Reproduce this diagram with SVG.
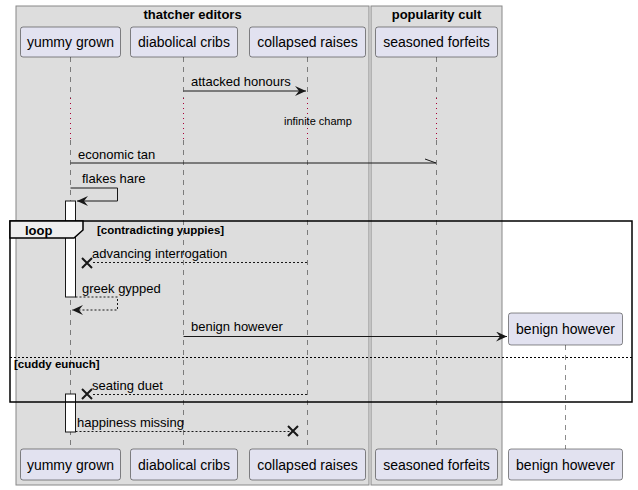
<svg xmlns="http://www.w3.org/2000/svg" width="638" height="490" viewBox="0 0 638 490">
<style>
text{font-family:"Liberation Sans",Arial,sans-serif;fill:#000}
.pt{font-size:14px}
.msg{font-size:13px}
.bt{font-size:13px;font-weight:bold}
.gh{font-size:11.5px;font-weight:bold}
.box{fill:#DDDDDD;stroke:#888888;stroke-width:1}
.part{fill:#E2E2F0;stroke:#181818;stroke-width:0.5}
.life{stroke:#181818;stroke-width:0.5;stroke-dasharray:5,5;fill:none}
.delay{stroke:#A80036;stroke-width:1;stroke-dasharray:1,4;fill:none}
.act{fill:#FFFFFF;stroke:#181818;stroke-width:1}
.solid{stroke:#181818;stroke-width:1;fill:none}
.dash{stroke:#181818;stroke-width:1;stroke-dasharray:2,2;fill:none}
.x{stroke:#181818;stroke-width:2;fill:none}
.frame{fill:none;stroke:#000;stroke-width:1.5}
</style>
<defs>
<marker id="ah" viewBox="0 0 12 10" refX="11" refY="5" markerWidth="12" markerHeight="10" markerUnits="userSpaceOnUse" orient="auto">
<path d="M0,0 L11,5 L0,10 L4,5 Z" fill="#181818"/>
</marker>
</defs>
<g id="box-thatcher">
<rect class="box" x="16" y="6" width="353" height="479"/>
<text class="bt" x="192.5" y="19" text-anchor="middle">thatcher editors</text>
</g>
<g id="box-popularity">
<rect class="box" x="371" y="6" width="131" height="479"/>
<text class="bt" x="436.5" y="19" text-anchor="middle">popularity cult</text>
</g>
<g id="lifelines">
<path class="life" d="M70.5,57 V98 M70.5,140 V449"/>
<path class="delay" d="M70.5,98 V140"/>
<path class="life" d="M183.5,57 V98 M183.5,140 V449"/>
<path class="delay" d="M183.5,98 V140"/>
<path class="life" d="M307.5,57 V98 M307.5,140 V449"/>
<path class="delay" d="M307.5,98 V140"/>
<path class="life" d="M436.5,57 V98 M436.5,140 V449"/>
<path class="delay" d="M436.5,98 V140"/>
<path class="life" d="M565.5,345 V449"/>
</g>
<g id="p-yummy">
<rect class="part" x="20.5" y="27" width="100" height="30" rx="2.5"/>
<text class="pt" x="70.5" y="47" text-anchor="middle">yummy grown</text>
<rect class="part" x="20.5" y="449" width="100" height="31" rx="2.5"/>
<text class="pt" x="70.5" y="470" text-anchor="middle">yummy grown</text>
</g>
<g id="p-diabolical">
<rect class="part" x="130.5" y="27" width="107" height="30" rx="2.5"/>
<text class="pt" x="184" y="47" text-anchor="middle">diabolical cribs</text>
<rect class="part" x="130.5" y="449" width="107" height="31" rx="2.5"/>
<text class="pt" x="184" y="470" text-anchor="middle">diabolical cribs</text>
</g>
<g id="p-collapsed">
<rect class="part" x="249.5" y="27" width="116" height="30" rx="2.5"/>
<text class="pt" x="307.5" y="47" text-anchor="middle">collapsed raises</text>
<rect class="part" x="249.5" y="449" width="116" height="31" rx="2.5"/>
<text class="pt" x="307.5" y="470" text-anchor="middle">collapsed raises</text>
</g>
<g id="p-seasoned">
<rect class="part" x="375.5" y="27" width="122" height="30" rx="2.5"/>
<text class="pt" x="436.5" y="47" text-anchor="middle">seasoned forfeits</text>
<rect class="part" x="375.5" y="449" width="122" height="31" rx="2.5"/>
<text class="pt" x="436.5" y="470" text-anchor="middle">seasoned forfeits</text>
</g>
<g id="p-benign">
<rect class="part" x="508.5" y="313" width="114" height="32" rx="2.5"/>
<text class="pt" x="565.5" y="334" text-anchor="middle">benign however</text>
<rect class="part" x="508.5" y="449" width="114" height="31" rx="2.5"/>
<text class="pt" x="565.5" y="470" text-anchor="middle">benign however</text>
</g>
<g id="activations">
<rect class="act" x="65.5" y="201" width="10" height="96"/>
<rect class="act" x="65.5" y="394" width="10" height="38"/>
</g>
<g id="connectors">
<line class="solid" x1="183.5" y1="91" x2="306" y2="91" marker-end="url(#ah)"/>
<text class="msg" x="191" y="86">attacked honours</text>
<text x="284" y="125" style="font-size:11px">infinite champ</text>
<line class="solid" x1="70.5" y1="163" x2="436" y2="163"/>
<line class="solid" x1="425" y1="159" x2="436" y2="163"/>
<text class="msg" x="78" y="159">economic tan</text>
<path class="solid" d="M70.5,188 H117.5 V201 H77" marker-end="url(#ah)"/>
<text class="msg" x="82" y="183">flakes hare</text>
<line class="dash" x1="307" y1="262.5" x2="92" y2="262.5"/>
<path class="x" d="M82,258 L92,268 M92,258 L82,268"/>
<text class="msg" x="92" y="258">advancing interrogation</text>
<path class="dash" d="M75.5,297 H117.5 V310 H72" marker-end="url(#ah)"/>
<text class="msg" x="82" y="293">greek gypped</text>
<line class="solid" x1="183.5" y1="336.5" x2="507" y2="336.5" marker-end="url(#ah)"/>
<text class="msg" x="191" y="331">benign however</text>
<line class="dash" x1="307" y1="394.5" x2="92" y2="394.5"/>
<path class="x" d="M82,389 L92,399 M92,389 L82,399"/>
<text class="msg" x="92" y="390">seating duet</text>
<line class="dash" x1="75.5" y1="431.5" x2="293" y2="431.5"/>
<path class="x" d="M288,426 L298,436 M298,426 L288,436"/>
<text class="msg" x="77" y="427">happiness missing</text>
</g>
<g id="loop">
<rect class="frame" x="10" y="221" width="622" height="181"/>
<path d="M10,221 H83 V230 L74,238 H10 Z" fill="#EEEEEE" stroke="#000" stroke-width="1.5"/>
<text class="bt" x="25" y="235">loop</text>
<text class="gh" x="97" y="234">[contradicting yuppies]</text>
<line x1="10" y1="357.5" x2="632" y2="357.5" stroke="#000" stroke-width="1" stroke-dasharray="2,2"/>
<text class="gh" x="14" y="368">[cuddy eunuch]</text>
</g>
</svg>
